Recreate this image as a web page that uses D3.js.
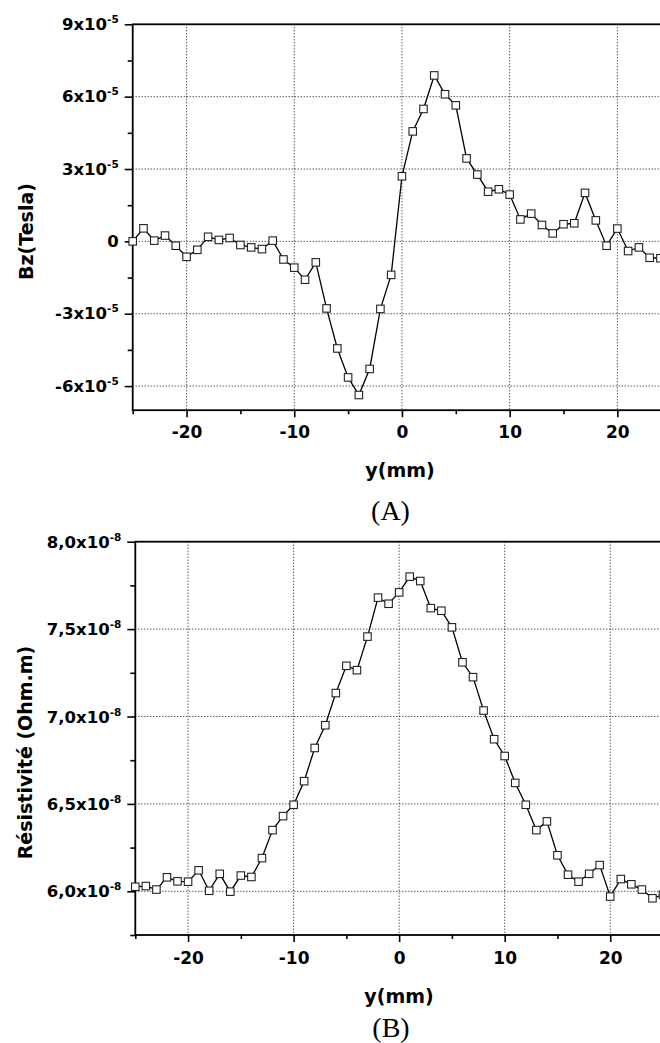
<!DOCTYPE html>
<html>
<head>
<meta charset="utf-8">
<script src="https://cdn.jsdelivr.net/npm/d3@7"></script>
<style>
  html, body { margin: 0; padding: 0; background: #fff; }
  svg { display: block; }
  .tick text { font-family: "DejaVu Sans", sans-serif; font-weight: bold; }
</style>
</head>
<body>
<svg id="fig" width="660" height="1043"></svg>
<script>
// Position along the probe (mm)
const yPosA = [-25,-24,-23,-22,-21,-20,-19,-18,-17,-16,-15,-14,-13,-12,-11,-10,-9,-8,-7,-6,-5,-4,-3,-2,-1,
               0,1,2,3,4,5,6,7,8,9,10,11,12,13,14,15,16,17,18,19,20,21,22,23,24];
// Bz in units of 1e-5 Tesla
const bzE5 = [0.00,0.54,0.03,0.24,-0.18,-0.64,-0.35,0.19,0.06,0.14,-0.15,-0.25,-0.32,0.03,-0.75,-1.09,-1.59,-0.87,-2.78,-4.44,-5.64,-6.37,-5.29,-2.80,-1.39,
              2.70,4.56,5.49,6.88,6.10,5.64,3.44,2.77,2.06,2.16,1.94,0.91,1.15,0.68,0.33,0.71,0.75,2.01,0.87,-0.18,0.53,-0.40,-0.25,-0.68,-0.70];

const yPosB = [-25,-24,-23,-22,-21,-20,-19,-18,-17,-16,-15,-14,-13,-12,-11,-10,-9,-8,-7,-6,-5,-4,-3,-2,-1,
               0,1,2,3,4,5,6,7,8,9,10,11,12,13,14,15,16,17,18,19,20,21,22,23,24,25];
// Resistivity in units of 1e-8 Ohm.m
const rhoE8 = [6.026,6.030,6.010,6.080,6.057,6.055,6.120,6.003,6.100,5.998,6.090,6.082,6.190,6.350,6.430,6.495,6.630,6.820,6.950,7.134,7.290,7.265,7.457,7.680,7.645,
               7.710,7.800,7.775,7.620,7.605,7.510,7.310,7.225,7.034,6.870,6.774,6.620,6.495,6.350,6.400,6.206,6.095,6.055,6.100,6.150,5.970,6.070,6.040,6.010,5.960,5.980];

// Axis ticks
const xMajor = [-20, -10, 0, 10, 20];
const xMajorLabels = ["-20", "-10", "0", "10", "20"];
const xMinor = [-25, -15, -5, 5, 15, 25];
const yMajorA = [-6, -3, 0, 3, 6, 9];
const yMajorLabelsA = ["-6", "-3", "0", "3", "6", "9"];
const yMinorA = [-4.5, -1.5, 1.5, 4.5, 7.5];
const yMajorB = [6.0, 6.5, 7.0, 7.5, 8.0];
const yMajorLabelsB = ["6,0", "6,5", "7,0", "7,5", "8,0"];
const yMinorB = [5.75, 6.25, 6.75, 7.25, 7.75];

const svg = d3.select("#fig");
const FONT = "DejaVu Sans, sans-serif";

function panel(cfg) {
  const g = svg.append("g");
  const x = d3.scaleLinear().domain([-25, 25]).range(cfg.xRange);
  const y = d3.scaleLinear().domain(cfg.yDomain).range(cfg.yRange);
  const [x0, x1] = cfg.xRange;
  const [yb, yt] = cfg.yRange;

  // dotted grid at major ticks
  const grid = g.append("g").attr("stroke", "#111").attr("stroke-width", 1)
    .attr("stroke-dasharray", "1,2");
  xMajor.forEach(v => grid.append("line")
    .attr("x1", x(v)).attr("x2", x(v)).attr("y1", yt).attr("y2", yb));
  cfg.yMajor.filter(v => y(v) > yt + 1).forEach(v => grid.append("line")
    .attr("x1", x0).attr("x2", x1).attr("y1", y(v)).attr("y2", y(v)));

  // frame
  g.append("rect").attr("x", x0).attr("y", yt).attr("width", x1 - x0).attr("height", yb - yt)
    .attr("fill", "none").attr("stroke", "#000").attr("stroke-width", 1.8);

  // x axis: major + minor ticks
  const xa = g.append("g").attr("transform", `translate(0,${yb})`)
    .call(d3.axisBottom(x).tickValues(xMajor).tickSize(7).tickPadding(6)
      .tickFormat((d, i) => xMajorLabels[i]));
  xa.select(".domain").remove();
  xa.selectAll(".tick line").attr("stroke", "#000").attr("stroke-width", 1.6);
  xa.selectAll(".tick text").attr("font-size", 17).attr("fill", "#000")
    .attr("y", 0).attr("dy", null).attr("transform", `translate(0,${cfg.xLabelBase})`);
  const xm = g.append("g").attr("transform", `translate(0,${yb})`)
    .call(d3.axisBottom(x).tickValues(xMinor).tickSize(4).tickFormat(""));
  xm.select(".domain").remove();
  xm.selectAll(".tick line").attr("stroke", "#000").attr("stroke-width", 1.6);

  // y axis: major + minor ticks, labels with powers of ten
  const ya = g.append("g").attr("transform", `translate(${x0},0)`)
    .call(d3.axisLeft(y).tickValues(cfg.yMajor).tickSize(8).tickFormat(""));
  ya.select(".domain").remove();
  ya.selectAll(".tick line").attr("stroke", "#000").attr("stroke-width", 1.6);
  ya.selectAll(".tick").each(function(d, i) {
    const t = d3.select(this).append("text")
      .attr("x", -14).attr("y", cfg.yLabelDy)
      .attr("text-anchor", "end").attr("fill", "#000")
      .attr("font-size", 16.5).attr("font-family", FONT).attr("font-weight", "bold");
    const lab = cfg.yLabels[i];
    if (lab === "0") { t.text("0"); return; }
    t.append("tspan").text(lab + "x10");
    t.append("tspan").attr("font-size", 10.5).attr("dy", -7).text(cfg.exp);
  });
  const ym = g.append("g").attr("transform", `translate(${x0},0)`)
    .call(d3.axisLeft(y).tickValues(cfg.yMinor).tickSize(5).tickFormat(""));
  ym.select(".domain").remove();
  ym.selectAll(".tick line").attr("stroke", "#000").attr("stroke-width", 1.6);

  // data line + square markers
  const pts = cfg.xs.map((v, i) => [v, cfg.vals[i]]);
  g.append("path").datum(pts)
    .attr("fill", "none").attr("stroke", "#000").attr("stroke-width", 1.3)
    .attr("d", d3.line().x(d => x(d[0])).y(d => y(d[1])));
  const s = 7.5;
  g.append("g").selectAll("rect").data(pts).join("rect")
    .attr("x", d => x(d[0]) - s / 2).attr("y", d => y(d[1]) - s / 2)
    .attr("width", s).attr("height", s)
    .attr("fill", "#fff").attr("stroke", "#222").attr("stroke-width", 1.1);

  // axis titles
  g.append("text")
    .attr("transform", `translate(${cfg.yTitleX},${cfg.yTitleY}) rotate(-90)`)
    .attr("text-anchor", "middle").attr("font-family", FONT).attr("font-weight", "bold")
    .attr("font-size", 19).attr("fill", "#000").text(cfg.yTitle);
  g.append("text")
    .attr("x", cfg.xTitleX).attr("y", cfg.xTitleY)
    .attr("text-anchor", "middle").attr("font-family", FONT).attr("font-weight", "bold")
    .attr("font-size", 19).attr("fill", "#000").text("y(mm)");
  g.append("text")
    .attr("x", cfg.capX).attr("y", cfg.capY)
    .attr("text-anchor", "middle").attr("font-family", "Liberation Serif, serif")
    .attr("font-size", 28).attr("fill", "#000").text(cfg.caption);
}

panel({
  xs: yPosA, vals: bzE5,
  xRange: [132.7, 671.2], yDomain: [-7, 9], yRange: [410.2, 24.3],
  yMajor: yMajorA, yLabels: yMajorLabelsA, yMinor: yMinorA, exp: "-5",
  xLabelBase: 27.5, yLabelDy: 5,
  yTitle: "Bz(Tesla)", yTitleX: 33, yTitleY: 231.5,
  xTitleX: 400, xTitleY: 476.5,
  caption: "(A)", capX: 390.5, capY: 520
});

panel({
  xs: yPosB, vals: rhoE8,
  xRange: [135.3, 663], yDomain: [5.75, 8.0], yRange: [935, 541.7],
  yMajor: yMajorB, yLabels: yMajorLabelsB, yMinor: yMinorB, exp: "-8",
  xLabelBase: 29, yLabelDy: 5.5,
  yTitle: "Résistivité (Ohm.m)", yTitleX: 32, yTitleY: 752.5,
  xTitleX: 399, xTitleY: 1003,
  caption: "(B)", capX: 391, capY: 1037
});
</script>
</body>
</html>
